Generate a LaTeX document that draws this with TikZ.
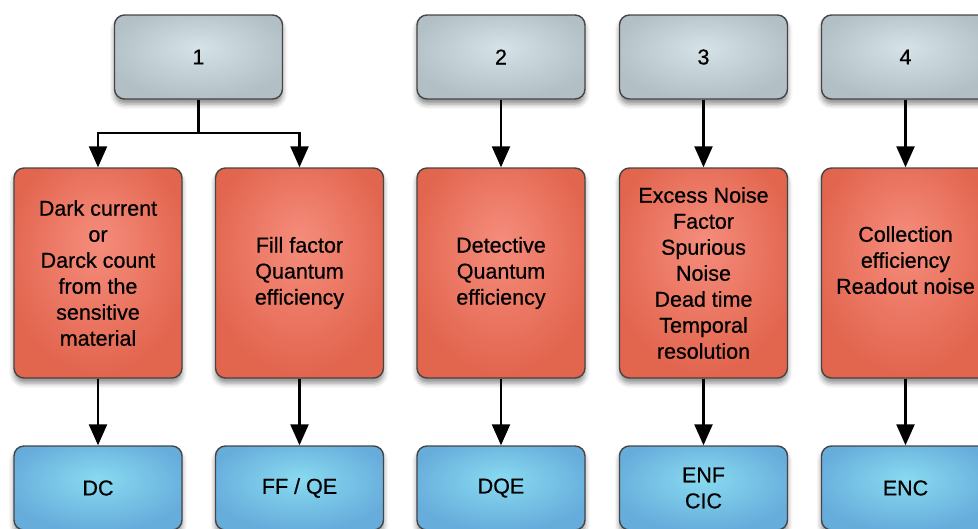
\documentclass[tikz,border=0pt]{standalone}
\usepackage{fontspec}
\setmainfont{Liberation Sans}
\newfontfamily\boxfont{Liberation Sans}[FakeBold=0.6]
\usetikzlibrary{arrows.meta,shadows.blur}
\definecolor{grayin}{HTML}{D5E2E7}
\definecolor{grayout}{HTML}{B2BFC5}
\definecolor{redin}{HTML}{F58C7C}
\definecolor{redout}{HTML}{E2654E}
\definecolor{bluein}{HTML}{88DAF0}
\definecolor{blueout}{HTML}{67ADDC}
\definecolor{edgecol}{HTML}{454545}
\pgfdeclareradialshading{redsh}{\pgfpoint{0bp}{8bp}}{color(0bp)=(redin); color(9bp)=(redin!70!redout); color(28bp)=(redout); color(50bp)=(redout)}
\pgfdeclareradialshading{bluesh}{\pgfpoint{0bp}{6bp}}{color(0bp)=(bluein); color(28bp)=(blueout); color(50bp)=(blueout)}
\pgfdeclareradialshading{graysh}{\pgfpoint{0bp}{6bp}}{color(0bp)=(grayin); color(28bp)=(grayout); color(50bp)=(grayout)}
\tikzset{
  box/.style={draw=edgecol, line width=1.4pt, rounded corners=10pt,
    minimum width=168pt, align=center, inner sep=2pt,
    font=\boxfont\fontsize{21.5}{26}\selectfont,
    blur shadow={shadow xshift=0pt, shadow yshift=-5pt, shadow blur radius=5pt, shadow opacity=45}},
  topbox/.style={box, minimum height=84pt, shading=graysh},
  redbox/.style={box, minimum height=210pt, shading=redsh},
  bluebox/.style={box, minimum height=84pt, shading=bluesh},
  arr/.style={line width=2.4pt, -{Triangle[width=18pt,length=21pt]}},
  ln/.style={line width=2.4pt},
}
\begin{document}
\begin{tikzpicture}[x=1pt,y=-1pt]
\useasboundingbox (0,0) rectangle (978,528);
\clip (0,0) rectangle (978,528);
% top boxes
\node[topbox] (t1) at (198.5,57) {1};
\node[topbox] (t2) at (501,57) {2};
\node[topbox] (t3) at (703.5,57) {3};
\node[topbox] (t4) at (905.5,57) {4};
% red boxes
\node[redbox] (r1) at (98,273) {Dark current\\or\\Darck count\\from the\\sensitive\\material};
\node[redbox] (r2) at (299.5,273) {Fill factor\\Quantum\\efficiency};
\node[redbox] (r3) at (501,273) {Detective\\Quantum\\efficiency};
\node[redbox] (r4) at (703.5,273) {Excess Noise\\Factor\\Spurious\\Noise\\Dead time\\Temporal\\resolution};
\node[redbox] (r5) at (905.5,273) {Collection\\efficiency\\Readout noise\\\mbox{}};
% blue boxes
\node[bluebox] (b1) at (98,488) {DC};
\node[bluebox] (b2) at (299.5,488) {FF / QE};
\node[bluebox] (b3) at (501,488) {DQE};
\node[bluebox] (b4) at (703.5,488) {ENF\\CIC};
\node[bluebox] (b5) at (905.5,488) {ENC};
% connectors
\coordinate (j) at (198.5,133);
\draw[ln] (t1.south) -- (j);
\draw[arr] (j) -| (r1.north);
\draw[arr] (j) -| (r2.north);
\draw[arr] (t2.south) -- (r3.north);
\draw[arr] (t3.south) -- (r4.north);
\draw[arr] (t4.south) -- (r5.north);
\draw[arr] (r1.south) -- (b1.north);
\draw[arr] (r2.south) -- (b2.north);
\draw[arr] (r3.south) -- (b3.north);
\draw[arr] (r4.south) -- (b4.north);
\draw[arr] (r5.south) -- (b5.north);
\end{tikzpicture}
\end{document}
